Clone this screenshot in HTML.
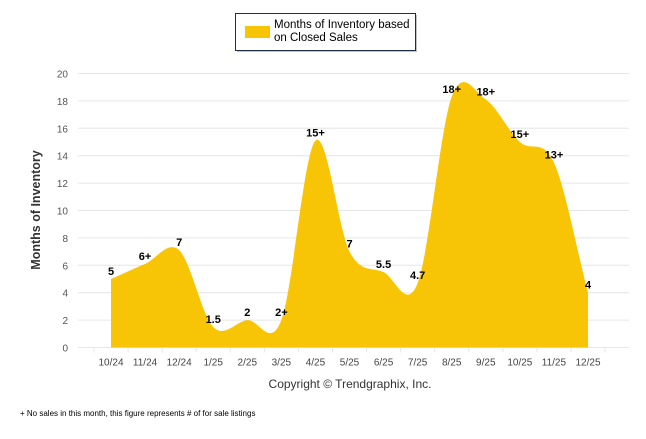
<!DOCTYPE html>
<html><head><meta charset="utf-8"><style>
body{margin:0;background:#fff;width:646px;height:434px;overflow:hidden;font-family:"Liberation Sans",Arial,sans-serif}
</style></head><body>
<svg width="646" height="434" xmlns="http://www.w3.org/2000/svg">
<g id="grid"></g>
<g id="area"></g>
<g id="ylabels"></g>
<g id="xlabels"></g>
<g id="dlabels"></g>
<text x="40" y="210" transform="rotate(-90 40 210)" text-anchor="middle" font-size="12.5" font-weight="bold" fill="#333">Months of Inventory</text>
<g>
<rect x="237" y="15" width="180" height="37" fill="#888" opacity="0.5"/>
<rect x="235.5" y="13.5" width="180" height="37" fill="#fff" stroke="#1f2d4d" stroke-width="1"/>
<rect x="245" y="26" width="25" height="12" fill="#F8C506"/>
<text x="274" y="28" font-size="11.5" fill="#000">Months of Inventory based</text>
<text x="274" y="41" font-size="11.5" fill="#000">on Closed Sales</text>
</g>
<text x="350" y="388" text-anchor="middle" font-size="12" fill="#333">Copyright © Trendgraphix, Inc.</text>
<text x="20" y="416" font-size="8" fill="#000">+  No sales in this month, this figure represents # of for sale listings</text>
</svg>
<script>
const categories=["10/24","11/24","12/24","1/25","2/25","3/25","4/25","5/25","6/25","7/25","8/25","9/25","10/25","11/25","12/25"];
const values=[5,6.1,7.1,1.5,2,2,15.1,7,5.5,4.7,18.3,18.1,15,13.5,4];
const labels=["5","6+","7","1.5","2","2+","15+","7","5.5","4.7","18+","18+","15+","13+","4"];
const yTicks=[0,2,4,6,8,10,12,14,16,18,20];
const NS="http://www.w3.org/2000/svg";
const X0=111,X1=588,Y0=347.5,Y20=73.5;
const xs=i=>X0+i*(X1-X0)/(categories.length-1);
const ys=v=>Y0-(v/20)*(Y0-Y20);
function mk(t,a,p){const e=document.createElementNS(NS,t);for(const k in a)e.setAttribute(k,a[k]);p.appendChild(e);return e;}
const grid=document.getElementById('grid'),yl=document.getElementById('ylabels'),xl=document.getElementById('xlabels'),dl=document.getElementById('dlabels'),ar=document.getElementById('area');
yTicks.forEach(v=>{
 const l=mk('line',{x1:78,x2:629,y1:ys(v),y2:ys(v),stroke:'#e6e6e6','stroke-width':1},grid);
 
 
 const t=mk('text',{x:68,y:ys(v)+4,'text-anchor':'end','font-size':10,fill:'#555'},yl);
 t.textContent=v;
 
 
});
for(let i=0;i<=categories.length;i++){
 const x=X0-17+i*(X1-X0)/(categories.length-1);
 mk('line',{x1:x,x2:x,y1:Y0,y2:Y0+5,stroke:'#e6e6e6'},grid);
}
categories.forEach((c,i)=>{
 const t=mk('text',{x:xs(i),y:Y0+18,'text-anchor':'middle','font-size':10,fill:'#444'},xl);
 t.textContent=c;
 
 
});
// Catmull-Rom spline
const P=values.map((v,i)=>[xs(i),ys(v)]);
const n=P.length;
const tan=P.map((p,i)=>{
 const a=P[Math.max(0,i-1)],b=P[Math.min(n-1,i+1)];
 const k=(i===0||i===n-1)?1:0.5;
 return [(b[0]-a[0])*k,(b[1]-a[1])*k];
});
let d=`M${P[0][0]},${Y0} L${P[0][0]},${P[0][1]}`;
for(let i=1;i<n;i++){
 const a=P[i-1],b=P[i],ta=tan[i-1],tb=tan[i];
 d+=` C${a[0]+ta[0]/3},${a[1]+ta[1]/3} ${b[0]-tb[0]/3},${b[1]-tb[1]/3} ${b[0]},${b[1]}`;
}
d+=` L${P[n-1][0]},${Y0} Z`;
const path=mk('path',{d,fill:'#F8C506'},ar);


labels.forEach((s,i)=>{
 const t=mk('text',{x:xs(i),y:ys(values[i])-4,'text-anchor':'middle','font-size':11,'font-weight':'bold',fill:'#000'},dl);
 t.textContent=s;
 
 
});
</script>
</body></html>
